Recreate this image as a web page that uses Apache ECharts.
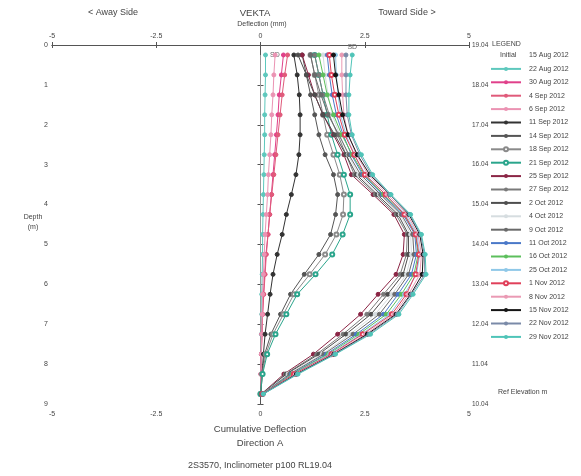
<!DOCTYPE html>
<html>
<head>
<meta charset="utf-8">
<script src="https://cdn.jsdelivr.net/npm/echarts@6/dist/echarts.min.js"></script>
<style>html,body{margin:0;padding:0;background:#fff}#c{width:581px;height:476px}</style>
</head>
<body>
<div id="c"></div>
<script>
// ---- data ----
const depths = [0.25,0.75,1.25,1.75,2.25,2.75,3.25,3.75,4.25,4.75,5.25,5.75,6.25,6.75,7.25,7.75,8.25,8.75];
const xTicks = [-5, -2.5, 0, 2.5, 5];
const depthTicks = [0,1,2,3,4,5,6,7,8,9];
const refElevation = 19.04;

const seriesNames = ['15 Aug 2012','22 Aug 2012','30 Aug 2012','4 Sep 2012','6 Sep 2012','11 Sep 2012','14 Sep 2012','18 Sep 2012','21 Sep 2012','25 Sep 2012','27 Sep 2012','2 Oct 2012','4 Oct 2012','9 Oct 2012','11 Oct 2012','16 Oct 2012','25 Oct 2012','1 Nov 2012','8 Nov 2012','15 Nov 2012','22 Nov 2012','29 Nov 2012'];

const aug15 = [0,0,0,0,0,0,0,0,0,0,0,0,0,0,0,0,0,0];
const aug22 = [0.12,0.12,0.11,0.1,0.1,0.09,0.08,0.07,0.06,0.05,0.05,0.04,0.03,0.03,0.02,0.02,0.01,0];
const aug30 = [0.55,0.5,0.45,0.42,0.38,0.34,0.3,0.26,0.22,0.18,0.13,0.1,0.07,0.05,0.03,0.02,0.01,0];
const sep04 = [0.65,0.58,0.52,0.47,0.42,0.37,0.32,0.27,0.22,0.18,0.14,0.11,0.08,0.05,0.04,0.02,0.01,0];
const sep06 = [0.35,0.32,0.3,0.27,0.25,0.22,0.19,0.17,0.14,0.11,0.09,0.07,0.05,0.04,0.03,0.02,0.01,0];
const sep11 = [0.8,0.88,0.93,0.95,0.95,0.92,0.85,0.74,0.62,0.52,0.4,0.3,0.23,0.17,0.11,0.07,0.04,0.01];
const sep14 = [1.0,1.1,1.2,1.3,1.4,1.55,1.75,1.85,1.8,1.68,1.4,1.05,0.72,0.48,0.25,0.1,0.03,0];
const sep18 = [1.2,1.3,1.4,1.5,1.6,1.75,1.9,2.0,1.98,1.82,1.55,1.18,0.8,0.55,0.3,0.13,0.04,0];
const sep21 = [1.3,1.4,1.5,1.6,1.7,1.85,2.0,2.15,2.15,1.97,1.72,1.32,0.88,0.62,0.36,0.16,0.05,0];
const sep25 = [1.0,1.15,1.3,1.5,1.75,2.0,2.18,2.7,3.2,3.45,3.42,3.25,2.82,2.4,1.85,1.27,0.56,0.02];
const sep27 = [1.3,1.4,1.5,1.65,1.85,2.05,2.25,2.75,3.25,3.52,3.5,3.35,2.95,2.55,1.98,1.35,0.6,0.03];
const oct02 = [0.9,1.1,1.3,1.5,1.78,2.05,2.3,2.8,3.3,3.55,3.55,3.42,3.05,2.65,2.05,1.4,0.62,0.03];
const oct04 = [1.5,1.55,1.62,1.72,1.9,2.1,2.35,2.85,3.35,3.6,3.62,3.5,3.15,2.75,2.15,1.48,0.66,0.04];
const oct09 = [1.2,1.3,1.45,1.62,1.88,2.12,2.4,2.88,3.38,3.65,3.68,3.55,3.22,2.85,2.22,1.52,0.7,0.04];
const oct11 = [1.6,1.65,1.72,1.82,1.98,2.18,2.45,2.92,3.42,3.7,3.74,3.62,3.3,2.95,2.3,1.58,0.74,0.05];
const oct16 = [1.4,1.5,1.6,1.75,1.95,2.2,2.48,2.95,3.45,3.72,3.78,3.68,3.38,3.02,2.36,1.62,0.76,0.05];
const oct25 = [1.8,1.82,1.86,1.92,2.05,2.25,2.52,3.0,3.48,3.75,3.82,3.74,3.45,3.1,2.42,1.66,0.79,0.05];
const nov01 = [1.65,1.7,1.78,1.88,2.02,2.25,2.5,3.0,3.45,3.72,3.8,3.72,3.5,3.15,2.45,1.7,0.8,0.05];
const nov08 = [1.95,1.95,1.97,2.0,2.1,2.3,2.58,3.05,3.52,3.78,3.86,3.82,3.55,3.2,2.52,1.74,0.84,0.06];
const nov15 = [1.75,1.8,1.88,1.97,2.1,2.32,2.62,3.1,3.56,3.82,3.9,3.88,3.6,3.25,2.56,1.76,0.86,0.06];
const nov22 = [2.05,2.05,2.05,2.08,2.18,2.38,2.66,3.1,3.58,3.84,3.93,3.94,3.62,3.28,2.6,1.78,0.88,0.06];
const nov29 = [2.2,2.15,2.12,2.12,2.2,2.42,2.69,3.13,3.6,3.86,3.95,3.97,3.66,3.32,2.64,1.8,0.9,0.07];

const seriesValues = [aug15,aug22,aug30,sep04,sep06,sep11,sep14,sep18,sep21,sep25,sep27,oct02,oct04,oct09,oct11,oct16,oct25,nov01,nov08,nov15,nov22,nov29];

// ---- styles ----
const seriesColors = ['#9a9a9a','#5ec8bd','#e0408a','#e05a7a','#eb93b3','#333333','#555555','#8a8a8a','#2aa58c','#8b2545','#7a7a7a','#4e4e4e','#d6dde0','#6a6a6a','#4a78c8','#5cbf5c','#8fc8e8','#e0405a','#ea9ab4','#151515','#7a8aa8','#4fc4b8'];
const seriesSymbols = ['none','circle','circle','circle','circle','circle','circle','emptyCircle','emptyCircle','circle','circle','circle','circle','circle','circle','circle','circle','emptyCircle','circle','circle','circle','circle'];
const topLabels = {'22 Aug 2012':'SD', '29 Nov 2012':'SD'};

const FONT = 'Liberation Sans';
const TXT = '#444';

const series = seriesNames.map((name, i) => ({
  name: name,
  type: 'line',
  xAxisIndex: 0,
  yAxisIndex: 0,
  symbol: seriesSymbols[i],
  symbolSize: 4,
  showSymbol: seriesSymbols[i] !== 'none',
  animation: false,
  z: 2 + i,
  lineStyle: {color: seriesColors[i], width: 1},
  itemStyle: {color: seriesColors[i], borderColor: seriesColors[i]},
  data: seriesValues[i].map((v, k) => {
    const p = {value: [v, depths[k]]};
    if (k === 0 && topLabels[name]) {
      p.label = {show: true, formatter: topLabels[name], position: i === 1 ? 'right' : 'top', fontSize: 7, color: '#666', fontFamily: FONT, distance: 2};
    }
    return p;
  })
}));

const legendData = seriesNames.map((n, i) => i === 0
  ? {name: n, itemStyle: {opacity: 0}, lineStyle: {opacity: 0}}
  : {name: n});

const axisCommon = {
  axisLine: {lineStyle: {color: '#555', width: 1}},
  axisTick: {lineStyle: {color: '#555'}, length: 3},
  splitLine: {show: false},
  axisLabel: {fontSize: 7, color: TXT, fontFamily: FONT}
};

const option = {
  animation: false,
  backgroundColor: '#fff',
  grid: {left: 52, right: 112, top: 45, bottom: 72, containLabel: false},
  xAxis: [
    Object.assign({}, axisCommon, {type: 'value', position: 'bottom', min: xTicks[0], max: xTicks[xTicks.length-1], interval: 2.5,
      axisLabel: Object.assign({}, axisCommon.axisLabel, {margin: 7})}),
    Object.assign({}, axisCommon, {type: 'value', position: 'top', min: xTicks[0], max: xTicks[xTicks.length-1], interval: 2.5,
      axisLabel: Object.assign({}, axisCommon.axisLabel, {margin: 5})})
  ],
  yAxis: [
    Object.assign({}, axisCommon, {type: 'value', inverse: true, position: 'left', min: depthTicks[0], max: depthTicks[depthTicks.length-1], interval: 1,
      axisLabel: Object.assign({}, axisCommon.axisLabel, {margin: 4})}),
    Object.assign({}, axisCommon, {type: 'value', inverse: true, position: 'right', min: depthTicks[0], max: depthTicks[depthTicks.length-1], interval: 1,
      axisLabel: Object.assign({}, axisCommon.axisLabel, {margin: 3, fontSize: 6.5, formatter: v => (refElevation - v).toFixed(2)})})
  ],
  legend: {
    orient: 'vertical',
    left: 490,
    top: 51,
    itemWidth: 30,
    itemHeight: 5,
    itemGap: 4.4,
    data: legendData,
    textStyle: {fontSize: 7, color: TXT, fontFamily: FONT, lineHeight: 9, padding: [0,0,0,3]},
    selectedMode: false,
    padding: 0
  },
  graphic: [
    {type: 'text', x: 113, y: 13, style: {text: '< Away Side', fontSize: 9, fill: TXT, fontFamily: FONT, align: 'center', verticalAlign: 'middle'}},
    {type: 'text', x: 255, y: 13, style: {text: 'VEKTA', fontSize: 9.5, fill: TXT, fontFamily: FONT, align: 'center', verticalAlign: 'middle'}},
    {type: 'text', x: 407, y: 13, style: {text: 'Toward Side >', fontSize: 9, fill: TXT, fontFamily: FONT, align: 'center', verticalAlign: 'middle'}},
    {type: 'text', x: 262, y: 24, style: {text: 'Deflection (mm)', fontSize: 7, fill: TXT, fontFamily: FONT, align: 'center', verticalAlign: 'middle'}},
    {type: 'text', x: 33, y: 222, style: {text: 'Depth\n(m)', fontSize: 7, fill: TXT, fontFamily: FONT, align: 'center', verticalAlign: 'middle', lineHeight: 10}},
    {type: 'text', x: 260, y: 429, style: {text: 'Cumulative Deflection', fontSize: 9.5, fill: TXT, fontFamily: FONT, align: 'center', verticalAlign: 'middle'}},
    {type: 'text', x: 260, y: 443, style: {text: 'Direction A', fontSize: 9.5, fill: TXT, fontFamily: FONT, align: 'center', verticalAlign: 'middle'}},
    {type: 'text', x: 260, y: 466, style: {text: '2S3570, Inclinometer p100 RL19.04', fontSize: 9, fill: TXT, fontFamily: FONT, align: 'center', verticalAlign: 'middle'}},
    {type: 'text', x: 492, y: 44, style: {text: 'LEGEND', fontSize: 7, fill: TXT, fontFamily: FONT, align: 'left', verticalAlign: 'middle'}},
    {type: 'text', x: 500, y: 55, style: {text: 'Initial', fontSize: 7, fill: TXT, fontFamily: FONT, align: 'left', verticalAlign: 'middle'}},
    {type: 'text', x: 498, y: 392, style: {text: 'Ref Elevation m', fontSize: 7, fill: TXT, fontFamily: FONT, align: 'left', verticalAlign: 'middle'}}
  ],
  series: series
};

const chart = echarts.init(document.getElementById('c'), null, {renderer: 'canvas'});
chart.setOption(option);
</script>
</body>
</html>
